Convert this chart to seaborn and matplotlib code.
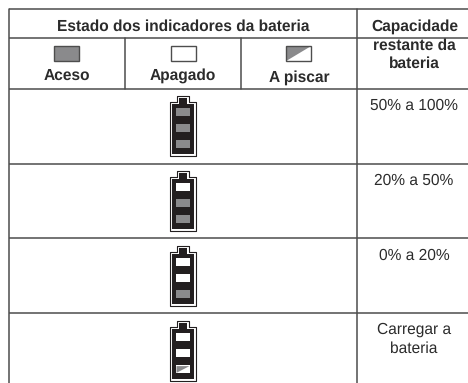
"""Tabela dos indicadores da bateria, desenhada com seaborn."""
import matplotlib
matplotlib.use("Agg")
import matplotlib.pyplot as plt
import numpy as np
import seaborn as sns
from matplotlib.colors import ListedColormap
from matplotlib.patches import Polygon, Rectangle

W, H = 468, 383

STATE_LABELS = ["Aceso", "Apagado", "A piscar"]
HEADER = "Estado dos indicadores da bateria"
CAPACITY_HEADER = ["Capacidade", "restante da", "bateria"]
CAPACITY = [["50% a 100%"], ["20% a 50%"], ["0% a 20%"], ["Carregar a", "bateria"]]

# 0 = aceso, 1 = apagado, 2 = a piscar (de cima para baixo)
BATTERY_1 = [0, 0, 0]
BATTERY_2 = [1, 0, 0]
BATTERY_3 = [1, 1, 0]
BATTERY_4 = [1, 1, 2]
BATTERIES = [BATTERY_1, BATTERY_2, BATTERY_3, BATTERY_4]

LINE = "#4d4d4d"
DARK = "#231f20"
GREY = "#8a8a8c"
TEXT = "#2b2b2b"
FS = 11.2

sns.set_theme(style="white")
plt.rcParams["font.family"] = ["Liberation Sans", "DejaVu Sans"]
plt.rcParams["text.hinting"] = "none"


def px_axes(fig, x0, y0, x1, y1):
    return fig.add_axes([x0 / W, 1 - y1 / H, (x1 - x0) / W, (y1 - y0) / H])


def draw_lines(ax, x, y, lines, step=18.7, **kwargs):
    for k, line in enumerate(lines):
        ax.text(x, y + step * k, line, ha="center", va="baseline", fontsize=FS, color=TEXT, **kwargs)


def draw_battery(fig, ax, states, top):
    cx = 183
    # corpo: contorno fino, linha branca e interior escuro
    outline = [(cx - 12.7, top + 7), (cx - 6, top + 7), (cx - 6, top + 1), (cx + 6, top + 1),
               (cx + 6, top + 7), (cx + 12.7, top + 7), (cx + 12.7, top + 60.5), (cx - 12.7, top + 60.5)]
    inner = [(cx - 11.2, top + 8.5), (cx - 4, top + 8.5), (cx - 4, top + 3), (cx + 4, top + 3),
             (cx + 4, top + 8.5), (cx + 11.2, top + 8.5), (cx + 11.2, top + 59), (cx - 11.2, top + 59)]
    ax.add_patch(Polygon(outline, closed=True, fc="white", ec=DARK, lw=0.8, joinstyle="round"))
    ax.add_patch(Polygon(inner, closed=True, fc=DARK, ec="none"))

    iax = px_axes(fig, cx - 11.2, top + 9.3, cx + 11.2, top + 57.3)
    sns.heatmap(
        np.array(states).reshape(3, 1), ax=iax, cmap=ListedColormap([GREY, "white", "white"]),
        vmin=0, vmax=2, cbar=False, linewidths=5.5, linecolor=DARK, xticklabels=False, yticklabels=False,
    )
    for i, state in enumerate(states):
        if state == 2:
            # triangulo cinzento dentro do segmento a piscar
            y0, y1 = i + 0.30, i + 0.72
            iax.add_patch(Polygon([(0.21, y0), (0.79, y0), (0.21, y1)], closed=True,
                                  fc=GREY, ec="none", zorder=5))


fig = plt.figure(figsize=(W / 100, H / 100), dpi=100)
ax = px_axes(fig, 0, 0, W, H)
ax.set_xlim(0, W)
ax.set_ylim(H, 0)
ax.axis("off")

# linhas da tabela
for y in [9, 37.5, 88.5, 163.7, 238.3, 313]:
    ax.plot([9, W], [y, y], color=LINE, lw=1.1, solid_capstyle="butt")
ax.plot([9, 9], [9, H], color=LINE, lw=1.1)
ax.plot([356.7, 356.7], [9, H], color=LINE, lw=1.1)
ax.plot([124.8, 124.8], [37.5, 88.5], color=LINE, lw=1.1)
ax.plot([240.7, 240.7], [37.5, 88.5], color=LINE, lw=1.1)

# cabecalho
draw_lines(ax, 183, 31, [HEADER], fontweight="bold")
draw_lines(ax, 414.5, 31, CAPACITY_HEADER, step=18.6, fontweight="bold")

swatch_x = [66.8, 183, 298.7]
label_x = [66.7, 182.3, 298.8]
label_y = [80, 80, 81.7]
for i, label in enumerate(STATE_LABELS):
    x = swatch_x[i]
    x0, x1, y0, y1 = x - 12.5, x + 12.5, 46, 61
    face = [GREY, "white", "white"][i]
    ax.add_patch(Rectangle((x0, y0), 25, 15, fc=face, ec="none", zorder=2))
    if i == 2:
        ax.add_patch(Polygon([(x0, y0), (x1, y0), (x0, y1)], closed=True, fc=GREY, ec="none", zorder=3))
    ax.add_patch(Rectangle((x0, y0), 25, 15, fc="none", ec=LINE, lw=1, zorder=4))
    draw_lines(ax, label_x[i], label_y[i], [label], fontweight="bold")

# filas
row_tops = [95, 170, 245, 320]
for battery, top in zip(BATTERIES, row_tops):
    draw_battery(fig, ax, battery, top)

text_y = [110, 185, 260, 334]
for lines, y in zip(CAPACITY, text_y):
    draw_lines(ax, 414, y, lines)

fig.savefig("out.png", dpi=100)
